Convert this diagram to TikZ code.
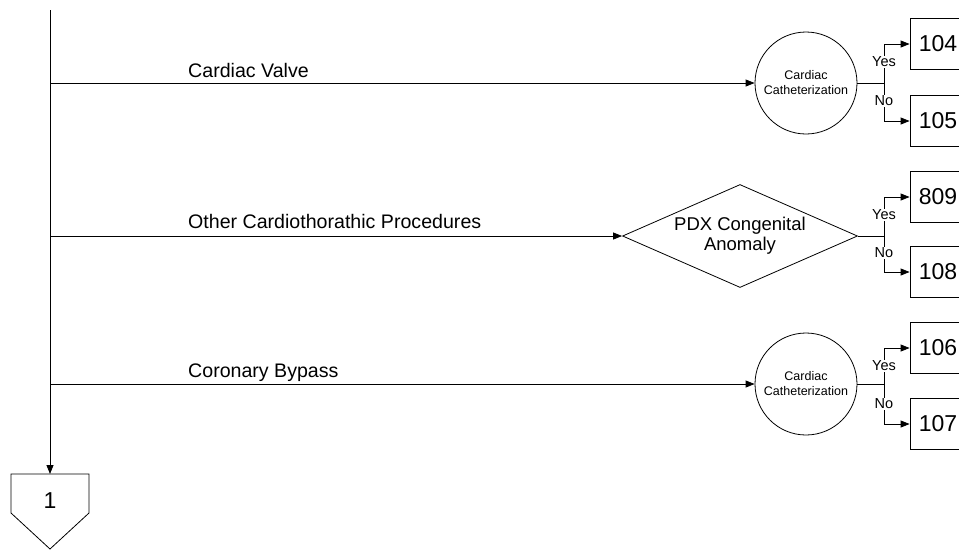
\documentclass[tikz,border=0pt]{standalone}
\usepackage{fontspec}
\setmainfont{Liberation Sans}
\usetikzlibrary{shapes.geometric}
\usetikzlibrary{positioning}
\usetikzlibrary{arrows.meta}
\tikzset{
    checknode/.style = {circle, draw=black, line width=0.8pt, minimum size=102pt, inner sep=0pt, align=center, font=\fontsize{12.5}{15}\selectfont},
    pdxnode/.style = {diamond, draw=black, line width=0.8pt, minimum width=235pt, minimum height=103pt, aspect=2.28, inner sep=0pt, align=center, font=\fontsize{18.5}{20}\selectfont},
    drgnode/.style = {rectangle, draw=black, line width=0.8pt, minimum width=56pt, minimum height=51pt, font=\fontsize{23}{24}\selectfont},
    yesno/.style = {fill=white, inner sep=0.6pt, font=\fontsize{14.5}{14.5}\selectfont},
    branchlbl/.style = {anchor=base west, inner sep=0pt, font=\fontsize{19.6}{20}\selectfont},
    edgen/.style = {-,line width=0.8pt,black},
    edgea/.style = {-{Triangle[length=9pt,width=7pt]},line width=0.8pt,black}
}

\begin{document}
\begin{tikzpicture}[x=1pt, y=-1pt]
  \useasboundingbox (0,0) rectangle (959,550);
  \clip (0,0) rectangle (959,550);
  % trunk and off-page connector
  \coordinate (top) at (50,10);
  \coordinate (j1) at (50,83);
  \coordinate (j2) at (50,236);
  \coordinate (j3) at (50,384);
  \coordinate (offtop) at (50,474);
  \node[font=\fontsize{23}{24}\selectfont] (off1) at (50,501) {1};
  \draw[edgen] (11,474) -- (89,474) -- (89,513) -- (50,549) -- (11,513) -- cycle;
  \draw[edgea] (top) -- (offtop);

  % Cardiac Valve
  \node[checknode] (cat1) at (806,83) {Cardiac\\Catheterization};
  \coordinate (s1) at (884,83);
  \node[drgnode] (d104) at (938,44) {104};
  \node[drgnode] (d105) at (938,121) {105};
  \draw[edgea] (j1) -- (cat1.west);
  \node[branchlbl] (l1) at (188,77) {Cardiac Valve};
  \draw[edgen] (cat1.east) -- (s1);
  \draw[edgea] (s1) |- (d104.west);
  \draw[edgea] (s1) |- (d105.west);
  \node[yesno] (y1) at (884,62) {Yes};
  \node[yesno] (n1) at (884,101) {No};

  % Other Cardiothorathic Procedures
  \node[pdxnode] (pdx) at (740,236) {PDX Congenital\\Anomaly};
  \coordinate (s2) at (884,236);
  \node[drgnode] (d809) at (938,197) {809};
  \node[drgnode] (d108) at (938,272) {108};
  \draw[edgea] (j2) -- (pdx.west);
  \node[branchlbl] (l2) at (188,228) {Other Cardiothorathic Procedures};
  \draw[edgen] (pdx.east) -- (s2);
  \draw[edgea] (s2) |- (d809.west);
  \draw[edgea] (s2) |- (d108.west);
  \node[yesno] (y2) at (884,215) {Yes};
  \node[yesno] (n2) at (884,253) {No};

  % Coronary Bypass
  \node[checknode] (cat3) at (806,384) {Cardiac\\Catheterization};
  \coordinate (s3) at (884,384);
  \node[drgnode] (d106) at (938,348) {106};
  \node[drgnode] (d107) at (938,424) {107};
  \draw[edgea] (j3) -- (cat3.west);
  \node[branchlbl] (l3) at (188,377) {Coronary Bypass};
  \draw[edgen] (cat3.east) -- (s3);
  \draw[edgea] (s3) |- (d106.west);
  \draw[edgea] (s3) |- (d107.west);
  \node[yesno] (y3) at (884,366) {Yes};
  \node[yesno] (n3) at (884,404) {No};
\end{tikzpicture}
\end{document}
